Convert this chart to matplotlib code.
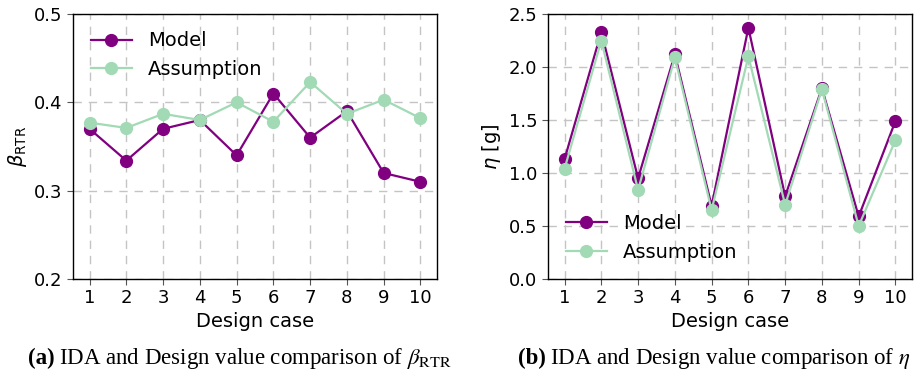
import matplotlib
matplotlib.use("Agg")
import matplotlib.pyplot as plt

cases = [1, 2, 3, 4, 5, 6, 7, 8, 9, 10]

beta_model = [0.370, 0.334, 0.370, 0.380, 0.340, 0.410, 0.360, 0.390, 0.320, 0.310]
beta_assumption = [0.377, 0.371, 0.387, 0.380, 0.400, 0.378, 0.423, 0.387, 0.403, 0.382]

eta_model = [1.13, 2.33, 0.95, 2.12, 0.69, 2.37, 0.78, 1.80, 0.59, 1.49]
eta_assumption = [1.04, 2.25, 0.84, 2.09, 0.65, 2.10, 0.70, 1.79, 0.50, 1.31]

series_labels = ["Model", "Assumption"]
model_color = "#800080"
assumption_color = "#a1dab4"

plt.rcParams["font.family"] = ["DejaVu Sans"]
plt.rcParams["mathtext.fontset"] = "dejavusans"

fig = plt.figure(figsize=(9.17, 3.82), dpi=100)
ax1 = fig.add_axes([73 / 917, 1 - 279 / 382, (437 - 73) / 917, 265 / 382])
ax2 = fig.add_axes([548 / 917, 1 - 279 / 382, (912 - 548) / 917, 265 / 382])

tick_fs = 13
label_fs = 14


def style(ax, yticks, ylim):
    ax.set_xticks(cases)
    ax.set_yticks(yticks)
    ax.set_ylim(*ylim)
    ax.set_xlim(0.55, 10.45)
    ax.grid(True, color="#c4c4c4", linestyle=(0, (6, 5)), linewidth=1.0)
    ax.set_axisbelow(True)
    ax.tick_params(labelsize=tick_fs, length=4, color="#555555")
    for s in ax.spines.values():
        s.set_linewidth(1.0)
    ax.set_xlabel("Design case", fontsize=label_fs, labelpad=3)


lw = 1.6
ms = 8.5

ax1.plot(cases, beta_model, "-o", color=model_color, lw=lw, ms=ms, label=series_labels[0], zorder=3)
ax1.plot(cases, beta_assumption, "-o", color=assumption_color, lw=lw, ms=ms, label=series_labels[1], zorder=4)
style(ax1, [0.2, 0.3, 0.4, 0.5], (0.2, 0.5))
ax1.set_ylabel(r"$\beta_{\mathrm{RTR}}$", fontsize=label_fs)
ax1.legend(loc="upper left", frameon=False, fontsize=label_fs, handlelength=2.15)

ax2.plot(cases, eta_model, "-o", color=model_color, lw=lw, ms=ms, label=series_labels[0], zorder=3)
ax2.plot(cases, eta_assumption, "-o", color=assumption_color, lw=lw, ms=ms, label=series_labels[1], zorder=4)
style(ax2, [0.0, 0.5, 1.0, 1.5, 2.0, 2.5], (0.0, 2.5))
ax2.set_ylabel(r"$\eta$ [g]", fontsize=label_fs)
ax2.legend(loc="lower left", frameon=False, fontsize=label_fs, handlelength=2.15)

# Sub-figure captions, laid out piece by piece in a serif face
serif = ["Liberation Serif", "DejaVu Serif"]
cap_fs = 16.5
base_y = 1 - 364 / 382
fig.canvas.draw()
renderer = fig.canvas.get_renderer()


def caption(x0_px, tag, body):
    t = fig.text(x0_px / 917, base_y, tag, fontsize=cap_fs, fontweight="bold", family=serif,
                 ha="left", va="baseline")
    x1 = t.get_window_extent(renderer).x1 + 4
    fig.text(x1 / fig.bbox.width, base_y, body, fontsize=cap_fs, family=serif,
             math_fontfamily="stix", ha="left", va="baseline")


caption(28, "(a)", r"IDA and Design value comparison of $\beta_{\mathrm{RTR}}$")
caption(518, "(b)", r"IDA and Design value comparison of $\eta$")

fig.savefig("out.png", dpi=100)
